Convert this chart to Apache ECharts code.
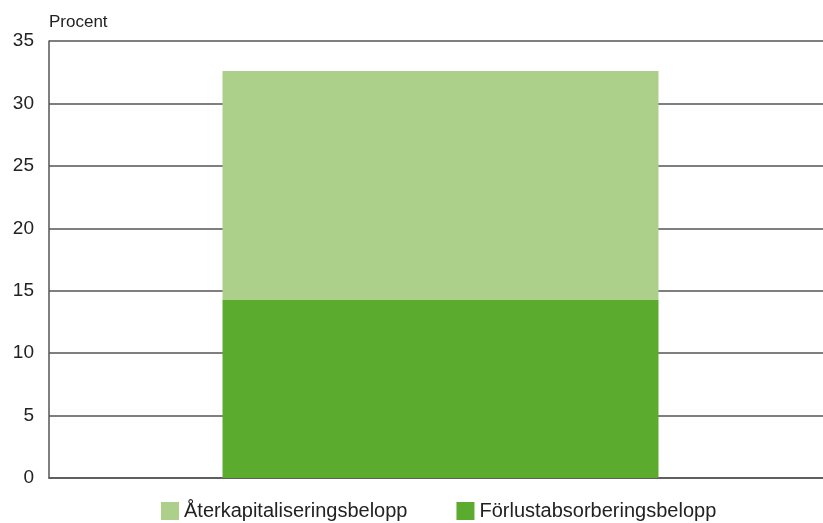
<!DOCTYPE html>
<html><head><meta charset="utf-8">
<script src="https://cdn.jsdelivr.net/npm/echarts@6/dist/echarts.min.js"></script>
<style>html,body{margin:0;padding:0;background:#fff}#c{width:823px;height:523px}</style>
</head><body><div id="c"></div>
<script>
const categories = [''];
const forlust = [14.25];
const aterkap = [18.35];
const yTicks = [0, 5, 10, 15, 20, 25, 30, 35];

const chart = echarts.init(document.getElementById('c'), null, {renderer: 'canvas'});
chart.setOption({
  animation: false,
  backgroundColor: '#ffffff',
  textStyle: {fontFamily: 'Liberation Sans, Arial, sans-serif'},
  grid: {left: 49, width: 783, top: 41, height: 437, containLabel: false, outerBoundsMode: 'none'},
  legend: {
    top: 501, left: 161, padding: 0, itemWidth: 18, itemHeight: 18, itemGap: 49,
    icon: 'rect',
    textStyle: {fontSize: 20, color: '#222'},
    data: ['Återkapitaliseringsbelopp', 'Förlustabsorberingsbelopp']
  },
  xAxis: {
    type: 'category', data: categories,
    axisLine: {show: true, lineStyle: {color: '#555', width: 1.5}},
    axisTick: {show: false}, axisLabel: {show: false}
  },
  yAxis: {
    type: 'value', min: yTicks[0], max: yTicks[yTicks.length - 1], interval: 5,
    name: 'Procent', nameLocation: 'end', nameGap: 10,
    nameTextStyle: {fontSize: 17, color: '#222', align: 'left'},
    axisLine: {show: true, lineStyle: {color: '#555', width: 1.5}},
    axisTick: {show: false},
    axisLabel: {fontSize: 19, color: '#222', margin: 15},
    splitLine: {show: true, lineStyle: {color: '#555', width: 1.5}}
  },
  series: [
    {name: 'Förlustabsorberingsbelopp', type: 'bar', stack: 's', data: forlust,
     barWidth: 436, itemStyle: {color: '#5aab2e'}},
    {name: 'Återkapitaliseringsbelopp', type: 'bar', stack: 's', data: aterkap,
     barWidth: 436, itemStyle: {color: '#acd08a'}}
  ]
});
</script></body></html>
